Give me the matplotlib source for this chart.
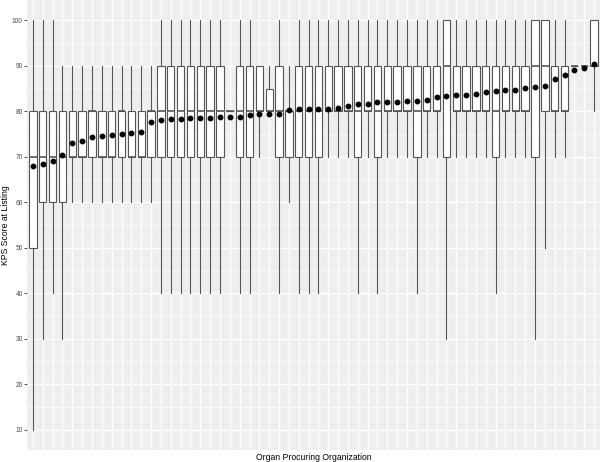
import matplotlib

matplotlib.use('Agg')
import matplotlib.pyplot as plt
from matplotlib.ticker import MultipleLocator

plt.rcParams['font.family'] = ['Liberation Sans', 'DejaVu Sans']

# Per-OPO summaries of KPS score at listing, sorted by mean
whisker_low = [10, 30, 40, 30, 60, 60, 60, 60, 60, 60, 60, 60, 60,
               40, 40, 40, 40, 40, 40, 40, 80, 40, 40, 70, 80, 40, 60,
               40, 40, 40, 70, 70, 70, 40, 70, 40, 70, 70, 70, 40, 70,
               70, 30, 70, 70, 70, 70, 40, 70, 70, 70, 30, 50, 70, 70,
               90, 90, 80]
q1 = [50, 60, 60, 60, 70, 70, 70, 70, 70, 70, 70, 70, 70,
      70, 70, 70, 70, 70, 70, 70, 80, 70, 70, 80, 80, 70, 70,
      70, 70, 70, 80, 80, 80, 70, 80, 70, 80, 80, 80, 70, 80,
      80, 70, 80, 80, 80, 80, 70, 80, 80, 80, 70, 80, 80, 80,
      90, 90, 90]
median = [70, 70, 70, 70, 70, 70, 80, 70, 70, 80, 70, 70, 80,
          80, 80, 80, 80, 80, 80, 80, 80, 80, 80, 80, 80, 80, 80,
          80, 80, 80, 80, 80, 80, 80, 80, 80, 80, 80, 80, 80, 80,
          80, 90, 80, 80, 80, 80, 80, 80, 80, 80, 90, 90, 80, 80,
          90, 90, 90]
q3 = [80, 80, 80, 80, 80, 80, 80, 80, 80, 80, 80, 80, 80,
      90, 90, 90, 90, 90, 90, 90, 80, 90, 90, 90, 85, 90, 80,
      90, 90, 90, 90, 90, 90, 90, 90, 90, 90, 90, 90, 90, 90,
      90, 100, 90, 90, 90, 90, 90, 90, 90, 90, 100, 100, 90, 90,
      90, 90, 100]
whisker_high = [100, 100, 100, 90, 90, 90, 90, 90, 90, 90, 90, 90, 90,
                100, 100, 100, 100, 100, 100, 100, 80, 100, 100, 90, 90, 100, 90,
                100, 100, 100, 100, 100, 100, 100, 100, 100, 100, 100, 100, 100, 100,
                100, 100, 100, 100, 100, 100, 100, 100, 100, 100, 100, 100, 100, 100,
                90, 90, 100]
means = [68.0, 68.5, 69.0, 70.3, 73.0, 73.5, 74.4, 74.5, 74.8, 75.0, 75.2, 75.4, 77.7,
         78.1, 78.4, 78.4, 78.5, 78.5, 78.6, 78.7, 78.7, 78.8, 79.3, 79.4, 79.4, 79.5, 80.3,
         80.5, 80.5, 80.6, 80.6, 80.7, 81.1, 81.6, 81.7, 82.1, 82.1, 82.1, 82.2, 82.2, 82.4,
         83.2, 83.4, 83.6, 83.7, 83.9, 84.2, 84.5, 84.6, 84.6, 85.1, 85.3, 85.5, 87.1, 88.1,
         89.2, 89.6, 90.5]

stats = []
for i in range(len(means)):
    stats.append(dict(whislo=whisker_low[i], q1=q1[i], med=median[i], q3=q3[i],
                      whishi=whisker_high[i], mean=means[i], fliers=[]))

fig = plt.figure(figsize=(6.0, 4.62), dpi=100)
# panel: x 27..600 px, y 0..450 px
ax = fig.add_axes([27 / 600, 12 / 462, 573 / 600, 450 / 462])
ax.set_facecolor('#EEEEEE')

positions = list(range(len(stats)))
edge = '#555555'
ax.bxp(stats, positions=positions, widths=0.75, showmeans=True, showcaps=False,
       showfliers=False, patch_artist=True,
       boxprops=dict(facecolor='white', edgecolor=edge, linewidth=0.8),
       medianprops=dict(color=edge, linewidth=1.2),
       whiskerprops=dict(color=edge, linewidth=0.8),
       meanprops=dict(marker='o', markerfacecolor='black', markeredgecolor='black',
                      markersize=3.2))

ax.set_xlim(-0.6, len(stats) - 0.4)
ax.set_ylim(5.5, 104.5)
ax.set_xticks(positions)
ax.set_xticklabels([])
ax.tick_params(axis='x', length=0)
ax.yaxis.set_major_locator(MultipleLocator(10))
ax.yaxis.set_minor_locator(MultipleLocator(5))
ax.tick_params(axis='y', which='major', length=2.0, width=0.6, color='#333333',
               labelsize=4.8, labelcolor='#4D4D4D', pad=1.0)
ax.tick_params(axis='y', which='minor', length=0)

ax.set_axisbelow(True)
ax.grid(True, which='major', color='white', linewidth=1.0)
ax.grid(True, which='minor', axis='y', color='white', linewidth=0.5)
for s in ax.spines.values():
    s.set_visible(False)

ax.set_xlabel('Organ Procuring Organization', fontsize=6.2)
ax.set_ylabel('KPS Score at Listing', fontsize=6.2)
ax.xaxis.set_label_coords(0.5, -3 / 450)
ax.yaxis.set_label_coords(-17 / 573, 0.5)

fig.savefig('out.png', dpi=100)
